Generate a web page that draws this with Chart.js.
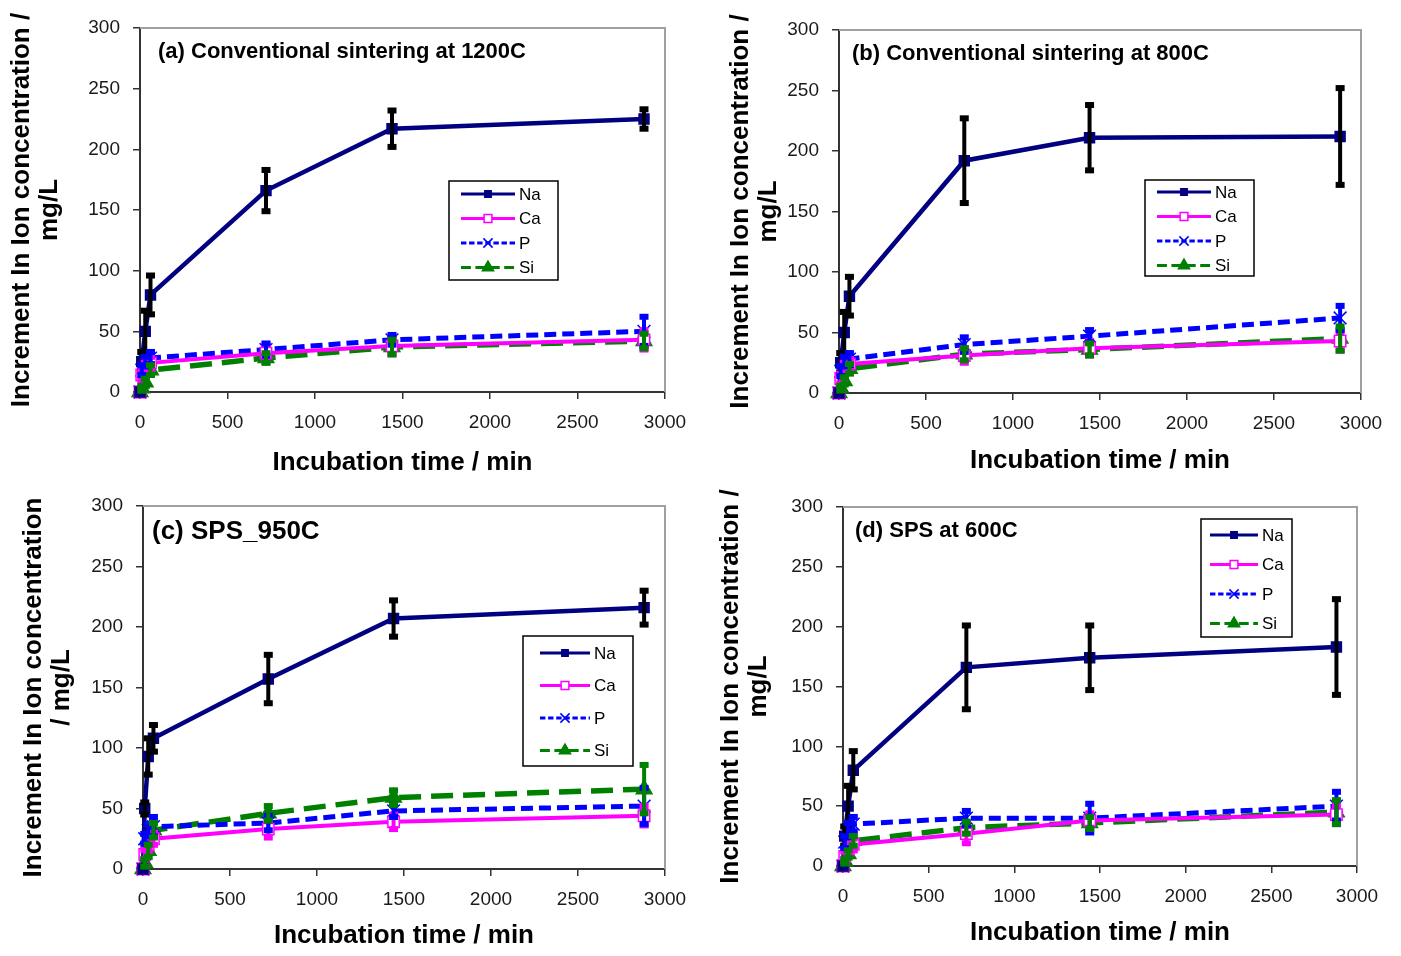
<!DOCTYPE html>
<html>
<head>
<meta charset="utf-8">
<script src="https://cdn.jsdelivr.net/npm/chart.js@4.4.1/dist/chart.umd.min.js"></script>
<style>
  body { margin: 0; background: #fff; }
  #wrap { position: relative; width: 1401px; height: 956px; }
  .panel { position: absolute; }
</style>
</head>
<body>
<div id="wrap">
  <div class="panel" style="left:0;top:0;width:700px;height:480px"><canvas id="ca"></canvas></div>
  <div class="panel" style="left:700px;top:0;width:701px;height:480px"><canvas id="cb"></canvas></div>
  <div class="panel" style="left:0;top:480px;width:700px;height:476px"><canvas id="cc"></canvas></div>
  <div class="panel" style="left:700px;top:480px;width:701px;height:476px"><canvas id="cd"></canvas></div>
</div>
<script>
// incubation times (min)
const times = [0, 10, 30, 60, 720, 1440, 2880];
const ions = ['Na', 'Ca', 'P', 'Si'];

// (a) conventional 1200C
const naA = [0, 25, 50, 80, 166, 217, 225];
const naErrA = [0, 8, 17, 16, 17, 15, 8];
const caA = [0, 14, 21, 24, 32, 38, 43];
const caErrA = [0, 4, 5, 5, 7, 7, 8];
const pA = [0, 18, 25, 28, 35, 43, 50];
const pErrA = [0, 4, 4, 5, 5, 4, 12];
const siA = [0, 3, 8, 18, 28, 37, 42];
const siErrA = [0, 2, 3, 4, 4, 6, 6];

// (b) conventional 800C
const naB = [0, 25, 50, 80, 192, 211, 212];
const naErrB = [0, 8, 17, 16, 35, 27, 40];
const caB = [0, 12, 20, 24, 31, 37, 43];
const caErrB = [0, 4, 5, 5, 6, 6, 8];
const pB = [0, 18, 26, 28, 40, 47, 62];
const pErrB = [0, 4, 4, 5, 6, 5, 10];
const siB = [0, 4, 10, 20, 32, 36, 45];
const siErrB = [0, 2, 3, 4, 5, 5, 10];

// (c) SPS 950C
const naC = [0, 50, 93, 108, 157, 207, 216];
const naErrC = [0, 5, 15, 11, 20, 15, 14];
const caC = [0, 12, 20, 25, 33, 39, 44];
const caErrC = [0, 4, 5, 5, 7, 6, 8];
const pC = [0, 25, 32, 35, 38, 48, 52];
const pErrC = [0, 4, 5, 8, 6, 5, 15];
const siC = [0, 5, 15, 32, 46, 59, 66];
const siErrC = [0, 3, 5, 6, 6, 6, 20];

// (d) SPS 600C
const naD = [0, 25, 50, 80, 166, 174, 183];
const naErrD = [0, 8, 17, 16, 35, 27, 40];
const caD = [0, 8, 14, 18, 27, 38, 43];
const caErrD = [0, 4, 5, 5, 8, 6, 8];
const pD = [0, 20, 30, 35, 40, 40, 50];
const pErrD = [0, 5, 6, 6, 6, 12, 12];
const siD = [0, 4, 10, 21, 32, 36, 45];
const siErrD = [0, 2, 3, 4, 5, 5, 10];

const xTicks = [0, 500, 1000, 1500, 2000, 2500, 3000];
const yTicks = [0, 50, 100, 150, 200, 250, 300];

const FONT = "'Liberation Sans', Arial, sans-serif";

// line looks for the four ions
const styles = [
    { color: '#000080', err: '#000000', dash: [], width: 4.5, point: 'rect', radius: 7, fill: '#000080' },
    { color: '#ff00ff', err: '#ff00ff', dash: [], width: 4, point: 'rect', radius: 8, fill: '#ffffff' },
    { color: '#0000ff', err: '#0000ff', dash: [12, 6], width: 5, point: 'crossRot', radius: 9, fill: '#0000ff' },
    { color: '#008000', err: '#008000', dash: [22, 10], width: 5.5, point: 'triangle', radius: 9, fill: '#008000' },
];

function makeSets(vals, errs) {
    return vals.map((v, i) => ({
        label: ions[i],
        data: times.map((t, k) => ({ x: t, y: v[k] })),
        errors: errs[i],
        errColor: styles[i].err,
        borderColor: styles[i].color,
        backgroundColor: styles[i].fill,
        borderDash: styles[i].dash,
        borderWidth: styles[i].width,
        pointStyle: styles[i].point,
        pointRadius: styles[i].radius,
        pointBorderWidth: 1.5,
        pointBorderColor: styles[i].color,
        pointBackgroundColor: styles[i].fill,
        tension: 0,
        clip: false,
    }));
}

// error bars
const errorBars = {
    id: 'errorBars',
    afterDatasetsDraw(chart) {
        const ctx = chart.ctx, xs = chart.scales.x, ys = chart.scales.y;
        ctx.save();
        chart.data.datasets.forEach(ds => {
            ctx.strokeStyle = ds.errColor;
            ctx.fillStyle = ds.errColor;
            ctx.lineWidth = 4;
            ds.data.forEach((p, k) => {
                const e = ds.errors[k];
                if (!e) return;
                const px = xs.getPixelForValue(p.x);
                const y1 = ys.getPixelForValue(p.y + e);
                const y2 = ys.getPixelForValue(p.y - e);
                ctx.beginPath();
                ctx.moveTo(px, y1); ctx.lineTo(px, y2);
                ctx.stroke();
                ctx.fillRect(px - 4.5, y1 - 3, 9, 6);
                ctx.fillRect(px - 4.5, y2 - 3, 9, 6);
            });
        });
        ctx.restore();
    }
};

// grey frame on top/right + inner label + legend box
const decor = {
    id: 'decor',
    beforeDatasetsDraw(chart) {
        const a = chart.chartArea, ctx = chart.ctx;
        ctx.save();
        ctx.strokeStyle = '#a0a0a0';
        ctx.lineWidth = 2;
        ctx.beginPath();
        ctx.moveTo(a.left, a.top); ctx.lineTo(a.right, a.top); ctx.lineTo(a.right, a.bottom);
        ctx.stroke();
        ctx.restore();
    },
    afterDraw(chart, args, opts) {
        const ctx = chart.ctx;
        ctx.save();
        ctx.fillStyle = '#000';
        ctx.font = 'bold ' + opts.labelSize + 'px ' + FONT;
        ctx.textBaseline = 'middle';
        ctx.fillText(opts.label, opts.labelX, opts.labelY);

        const L = opts.legend;
        ctx.fillStyle = '#fff';
        ctx.fillRect(L.x, L.y, L.w, L.h);
        ctx.strokeStyle = '#000';
        ctx.lineWidth = 1.5;
        ctx.strokeRect(L.x, L.y, L.w, L.h);
        ctx.font = '17px ' + FONT;
        chart.data.datasets.forEach((ds, i) => {
            const cy = L.y + L.first + i * L.step;
            ctx.strokeStyle = ds.borderColor;
            ctx.lineWidth = 3;
            ctx.setLineDash(ds.borderDash.map(d => d * 0.45));
            ctx.beginPath();
            ctx.moveTo(L.x + L.l0, cy); ctx.lineTo(L.x + L.l1, cy);
            ctx.stroke();
            ctx.setLineDash([]);
            ctx.fillStyle = ds.pointBackgroundColor;
            ctx.strokeStyle = ds.pointBorderColor;
            ctx.lineWidth = 1.5;
            Chart.helpers.drawPoint(ctx, { pointStyle: ds.pointStyle, radius: ds.pointRadius - 2.5, rotation: 0, borderWidth: 1.5 },
                L.x + (L.l0 + L.l1) / 2, cy);
            ctx.fillStyle = '#000';
            ctx.fillText(ds.label, L.x + L.tx, cy + 1);
        });
        ctx.restore();
    }
};

function makeChart(id, w, h, box, vals, errs, yTitle, yTitlePad, xTitlePad, deco) {
    const cv = document.getElementById(id);
    cv.width = w; cv.height = h;
    cv.style.width = w + 'px'; cv.style.height = h + 'px';
    return new Chart(cv, {
        type: 'line',
        data: { datasets: makeSets(vals, errs) },
        options: {
            responsive: false,
            animation: false,
            layout: { padding: { left: 0, top: box.T, right: w - box.R, bottom: 0 } },
            plugins: {
                legend: { display: false },
                tooltip: { enabled: false },
                decor: deco,
            },
            scales: {
                x: {
                    type: 'linear', min: 0, max: 3000,
                    afterBuildTicks: s => { s.ticks = xTicks.map(v => ({ value: v })); },
                    afterFit: s => { s.height = h - box.B; },
                    grid: { drawOnChartArea: false, drawTicks: true, tickLength: 7, color: '#333', lineWidth: 1.5 },
                    border: { color: '#333', width: 2 },
                    ticks: { font: { family: FONT, size: 19 }, color: '#1a1a1a', padding: 12, maxRotation: 0,
                             callback: v => String(v) },
                    title: { display: true, text: 'Incubation time / min', color: '#000',
                             font: { family: FONT, size: 26, weight: 'bold' }, padding: { top: 0, bottom: xTitlePad } },
                },
                y: {
                    min: 0, max: 300,
                    afterBuildTicks: s => { s.ticks = yTicks.map(v => ({ value: v })); },
                    afterFit: s => { s.width = box.L; },
                    grid: { drawOnChartArea: false, drawTicks: true, tickLength: 7, color: '#333', lineWidth: 1.5 },
                    border: { color: '#333', width: 2 },
                    ticks: { font: { family: FONT, size: 19 }, color: '#1a1a1a', padding: 13,
                             callback: v => String(v) },
                    title: { display: true, text: yTitle, color: '#000',
                             font: { family: FONT, size: 26, weight: 'bold', lineHeight: 1.08 }, padding: { top: yTitlePad, bottom: 0 } },
                },
            },
        },
        plugins: [decor, errorBars],
    });
}

makeChart('ca', 700, 480, { L: 140, T: 28, R: 665, B: 392 },
    [naA, caA, pA, siA], [naErrA, caErrA, pErrA, siErrA],
    ['Increment In Ion concentration /', 'mg/L'], 8, 2,
    { label: '(a) Conventional sintering at 1200C', labelSize: 22, labelX: 158, labelY: 52,
      legend: { x: 449, y: 181, w: 109, h: 99, first: 13, step: 24.5, l0: 12, l1: 66, tx: 70 } });

makeChart('cb', 701, 480, { L: 139, T: 30, R: 661, B: 393 },
    [naB, caB, pB, siB], [naErrB, caErrB, pErrB, siErrB],
    ['Increment In Ion concentration /', 'mg/L'], 27, 4,
    { label: '(b) Conventional sintering at 800C', labelSize: 22, labelX: 152, labelY: 54,
      legend: { x: 445, y: 180, w: 109, h: 96, first: 12, step: 24.5, l0: 12, l1: 66, tx: 70 } });

makeChart('cc', 700, 476, { L: 143, T: 26, R: 665, B: 389 },
    [naC, caC, pC, siC], [naErrC, caErrC, pErrC, siErrC],
    ['Increment In Ion concentration', '/ mg/L'], 20, 5,
    { label: '(c) SPS_950C', labelSize: 26, labelX: 152, labelY: 52,
      legend: { x: 523, y: 156, w: 110, h: 130, first: 17, step: 32.5, l0: 17, l1: 67, tx: 71 } });

makeChart('cd', 701, 476, { L: 143, T: 27, R: 657, B: 386 },
    [naD, caD, pD, siD], [naErrD, caErrD, pErrD, siErrD],
    ['Increment In Ion concentration /', 'mg/L'], 17, 8,
    { label: '(d) SPS at 600C', labelSize: 22, labelX: 155, labelY: 51,
      legend: { x: 501, y: 39, w: 91, h: 118, first: 16, step: 29.5, l0: 9, l1: 57, tx: 61 } });
</script>
</body>
</html>
